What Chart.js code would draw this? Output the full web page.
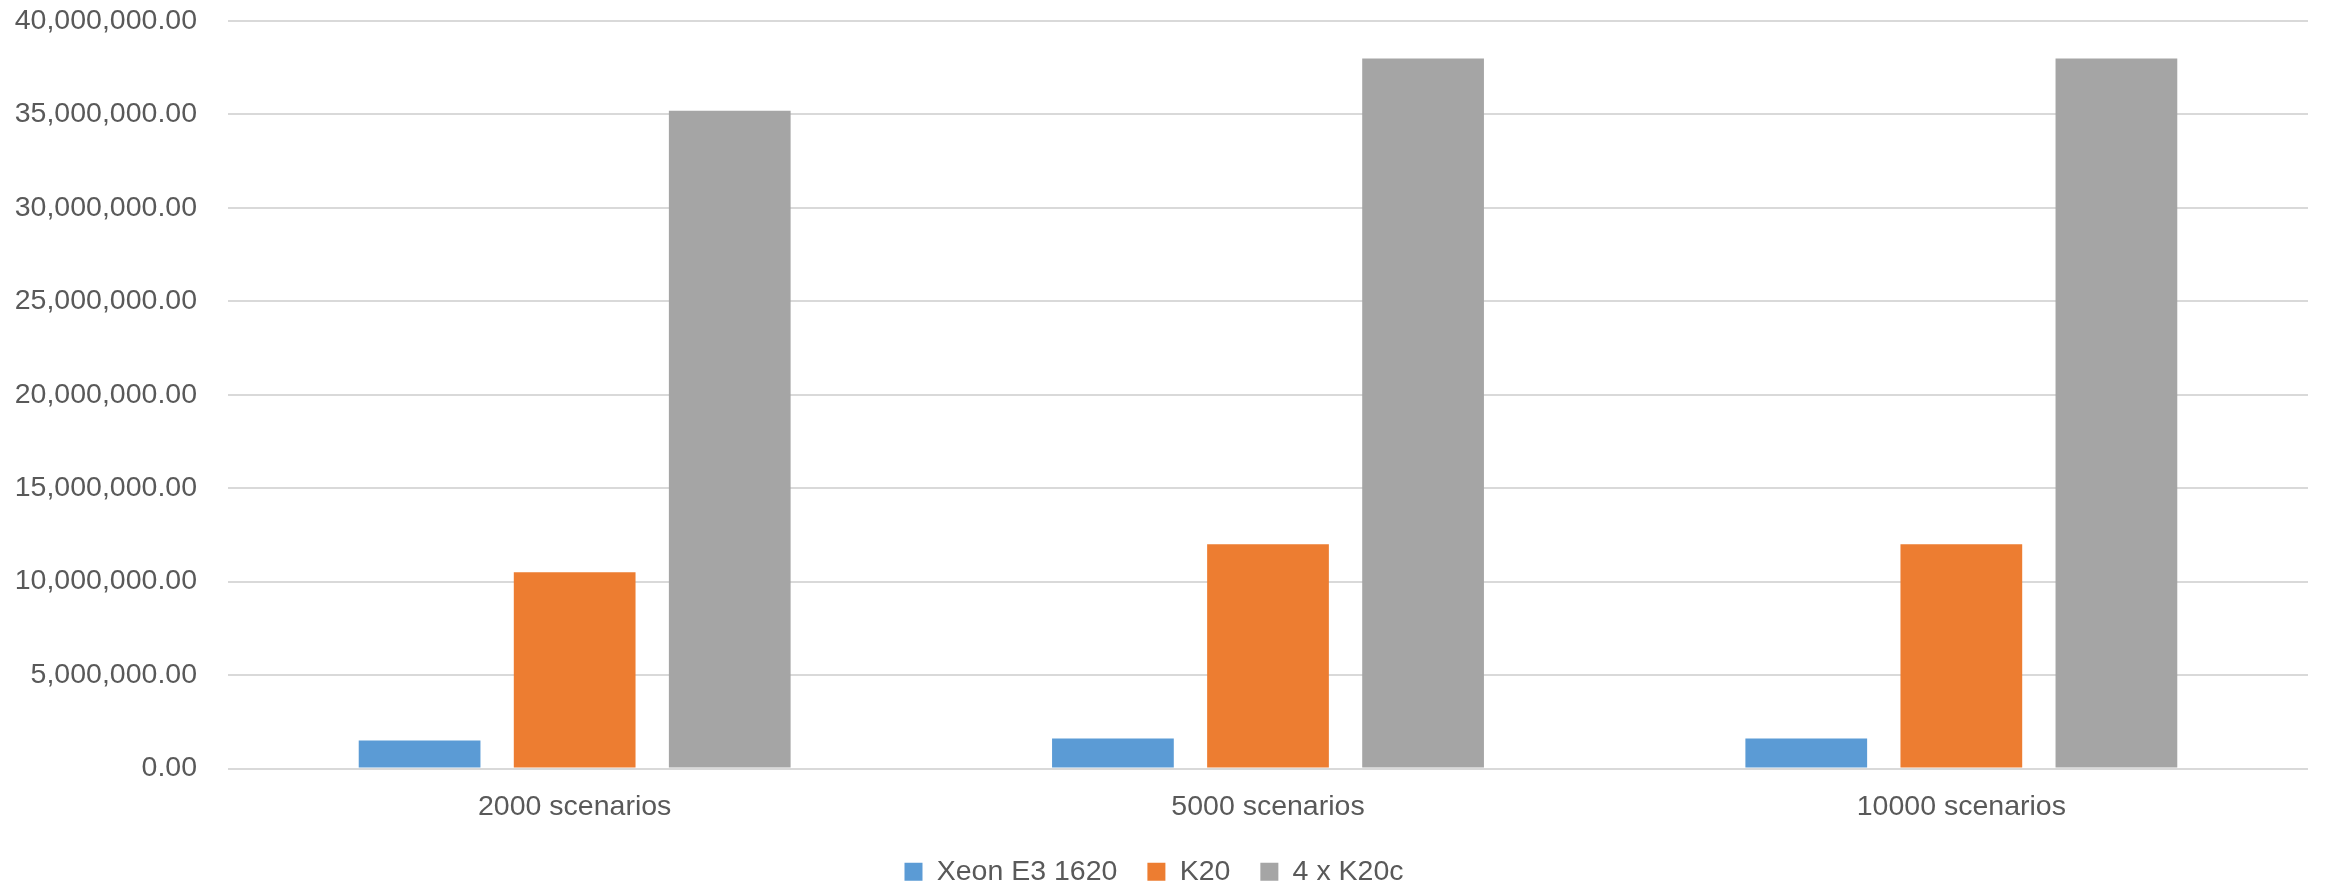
<!DOCTYPE html>
<html>
<head>
<meta charset="utf-8">
<script src="https://cdn.jsdelivr.net/npm/chart.js@4/dist/chart.umd.min.js"></script>
<style>
  html, body { margin: 0; padding: 0; background: #fff; overflow: hidden; }
  #wrap { width: 2338px; height: 887px; overflow: hidden; }
</style>
</head>
<body>
<div id="wrap"><canvas id="bars" width="2338" height="896"></canvas></div>
<script>
// data
var categories = ["2000 scenarios", "5000 scenarios", "10000 scenarios"];
var seriesNames = ["Xeon E3 1620", "K20", "4 x K20c"];
var xeonValues = [1500000, 1600000, 1600000];
var k20Values = [10500000, 12000000, 12000000];
var k20cValues = [35200000, 38000000, 38000000];
var yTicks = [0, 40000000, 5000000]; // min, max, step

var colors = ["#5B9BD5", "#ED7D31", "#A5A5A5"];
var textColor = "#595959";
var fontFamily = "'Liberation Sans', Arial, sans-serif";

Chart.defaults.font.family = fontFamily;
Chart.defaults.font.size = 28.5;
Chart.defaults.color = textColor;

var ctx = document.getElementById("bars").getContext("2d");

new Chart(ctx, {
    type: 'bar',
    data: {
        labels: categories,
        datasets: [
            { label: seriesNames[0], data: xeonValues, backgroundColor: colors[0] },
            { label: seriesNames[1], data: k20Values, backgroundColor: colors[1] },
            { label: seriesNames[2], data: k20cValues, backgroundColor: colors[2] }
        ]
    },
    options: {
        responsive: false,
        animation: false,
        devicePixelRatio: 1,
        layout: { padding: { top: 21, right: 30, left: 0, bottom: 0 } },
        datasets: {
            bar: { categoryPercentage: 0.671, barPercentage: 0.785 }
        },
        plugins: {
            tooltip: { enabled: false },
            legend: {
                position: 'bottom',
                labels: {
                    boxWidth: 18,
                    boxHeight: 18,
                    padding: 30,
                    color: textColor,
                    font: { size: 28.5 }
                }
            }
        },
        scales: {
            x: {
                grid: { display: false, drawTicks: false },
                border: { display: false },
                ticks: { padding: 22, color: textColor },
                afterFit: function(scale) { scale.height = 59; }
            },
            y: {
                min: yTicks[0],
                max: yTicks[1],
                grid: { color: "#D9D9D9", lineWidth: 2, drawTicks: true, tickLength: 31, tickColor: "rgba(0,0,0,0)" },
                border: { display: false },
                ticks: {
                    stepSize: yTicks[2],
                    padding: 0,
                    color: textColor,
                    callback: function(v) {
                        return Number(v).toLocaleString('en-US', { minimumFractionDigits: 2, maximumFractionDigits: 2 });
                    }
                },
                afterFit: function(scale) { scale.width = 228; }
            }
        }
    }
});
</script>
</body>
</html>
